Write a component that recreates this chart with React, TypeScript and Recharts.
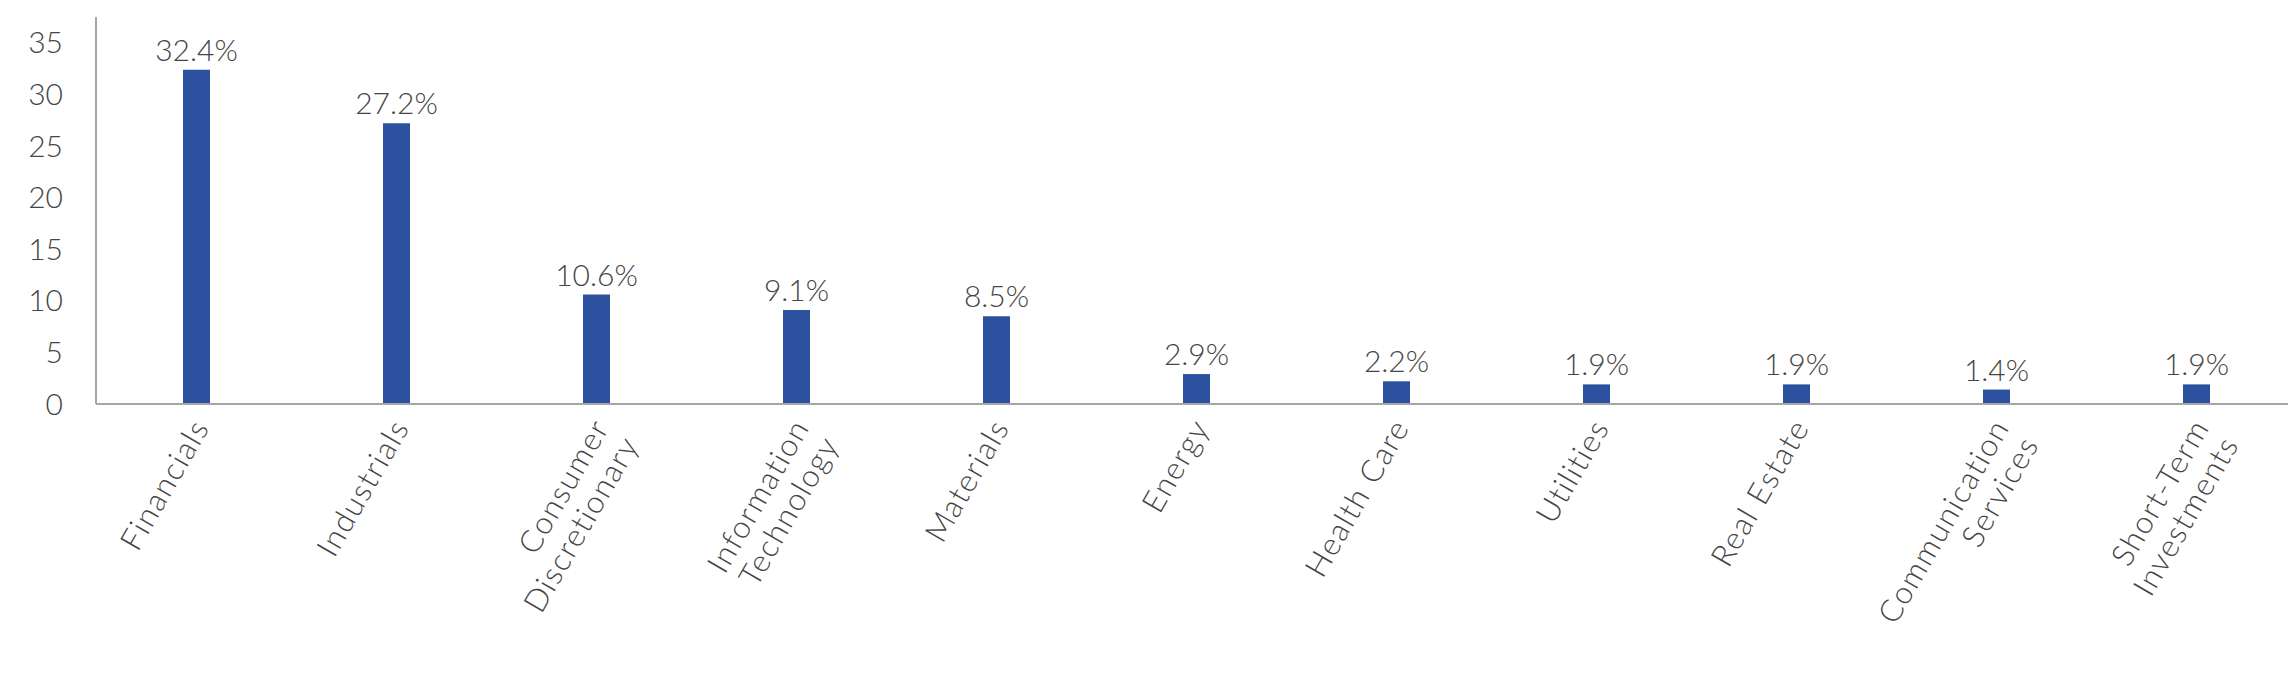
import React from "react";
import { BarChart, Bar, XAxis, YAxis, LabelList } from "recharts";

const categories = [
  "Financials",
  "Industrials",
  "Consumer\nDiscretionary",
  "Information\nTechnology",
  "Materials",
  "Energy",
  "Health Care",
  "Utilities",
  "Real Estate",
  "Communication\nServices",
  "Short-Term\nInvestments",
];
const weights = [32.4, 27.2, 10.6, 9.1, 8.5, 2.9, 2.2, 1.9, 1.9, 1.4, 1.9];
const yTicks = [0, 5, 10, 15, 20, 25, 30, 35];

const data = categories.map((c, i) => ({ name: c, value: weights[i] }));

const FONT = "Lato, 'Open Sans', sans-serif";
const TEXT = "#454545";
const WEIGHT = 300;

const XTick = (props: any) => {
  const { x, y, payload } = props;
  const lines = String(payload.value).split("\n");
  return (
    <g transform={`translate(${x},${y}) rotate(-60)`}>
      {lines.map((l: string, i: number) => (
        <text
          key={i}
          x={-6}
          y={20 + i * 34}
          textAnchor="end"
          fontSize={31}
          letterSpacing={1.5}
          fontFamily={FONT}
          fontWeight={WEIGHT}
          fill={TEXT}
        >
          {l}
        </text>
      ))}
    </g>
  );
};

export default function App() {
  return (
    <div style={{ margin: -8, width: 2296, height: 692, background: "#fff" }}>
      <BarChart
        width={2296}
        height={692}
        data={data}
        margin={{ top: 17, right: 0, bottom: 0, left: 0 }}
        barCategoryGap={0}
      >
        <YAxis
          width={96}
          domain={[0, 37.5]}
          ticks={yTicks}
          tickLine={false}
          tickSize={0}
          tickMargin={33}
          axisLine={{ stroke: "#A6A6A6", strokeWidth: 2 }}
          tick={{ fontSize: 30, fontFamily: FONT, fontWeight: WEIGHT, fill: TEXT }}
          allowDataOverflow
        />
        <XAxis
          dataKey="name"
          interval={0}
          tickLine={false}
          axisLine={{ stroke: "#A6A6A6", strokeWidth: 2 }}
          tick={<XTick />}
          height={288}
        />
        <Bar dataKey="value" fill="#2C519E" barSize={27} isAnimationActive={false}>
          <LabelList
            dataKey="value"
            position="top"
            offset={9}
            formatter={(v: any) => `${Number(v).toFixed(1)}%`}
            style={{ fontSize: 30, fontFamily: FONT, fontWeight: WEIGHT, fill: TEXT }}
          />
        </Bar>
      </BarChart>
    </div>
  );
}
